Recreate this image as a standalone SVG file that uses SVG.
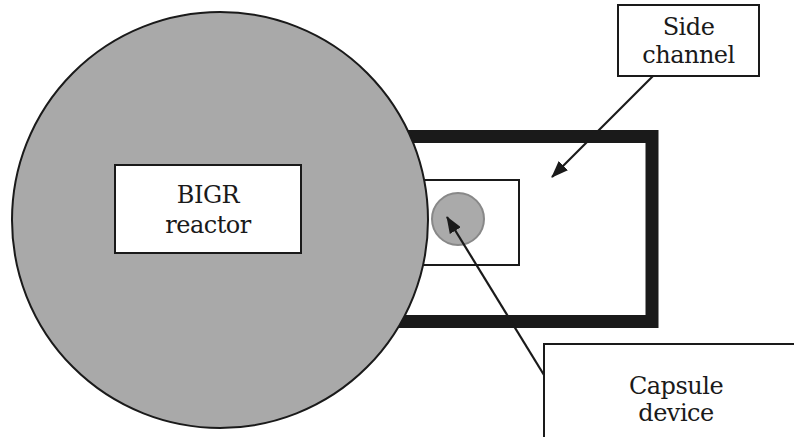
<svg xmlns="http://www.w3.org/2000/svg" width="794" height="437" viewBox="0 0 794 437">
  <style>
    text { font-family: 'DejaVu Serif', serif; font-size: 24px; letter-spacing: -0.5px; fill: #1a1a1a; text-anchor: middle; }
    .box { fill: #ffffff; stroke: #1a1a1a; stroke-width: 2; }
    .conn { stroke: #1a1a1a; stroke-width: 2.2; fill: none; marker-end: url(#head); }
  </style>
  <defs>
    <marker id="head" viewBox="0 0 17 13" refX="16" refY="6.5" markerWidth="17" markerHeight="13" markerUnits="userSpaceOnUse" orient="auto">
      <path d="M0,0 L17,6.5 L0,13 Z" fill="#1a1a1a"/>
    </marker>
  </defs>
  <rect width="794" height="437" fill="#ffffff"/>

  <!-- side channel frame (thick) and the irradiation cell inside it -->
  <g id="channel">
    <rect x="330" y="136.5" width="322" height="185" fill="none" stroke="#1a1a1a" stroke-width="13"/>
    <rect x="400" y="180" width="119" height="85" class="box"/>
  </g>

  <!-- reactor core -->
  <g id="reactor">
    <circle cx="220" cy="220" r="208" fill="#a9a9a9" stroke="#1a1a1a" stroke-width="2"/>
    <rect x="115" y="165" width="186" height="88" class="box"/>
    <text x="208" y="203">BIGR</text>
    <text x="208" y="233">reactor</text>
  </g>

  <!-- capsule -->
  <g id="capsule">
    <circle cx="458" cy="219" r="26" fill="#aaaaaa" stroke="#888888" stroke-width="2"/>
  </g>

  <g id="side-channel-label">
    <rect x="618" y="5" width="141" height="71" class="box"/>
    <text x="688.5" y="35">Side</text>
    <text x="688.5" y="63">channel</text>
  </g>

  <g id="capsule-label">
    <rect x="544" y="344" width="262" height="110" class="box"/>
    <text x="676" y="394">Capsule</text>
    <text x="676" y="421">device</text>
  </g>

  <g id="connectors">
    <line class="conn" x1="653" y1="76" x2="552" y2="177"/>
    <line class="conn" x1="544" y1="375" x2="447" y2="217"/>
  </g>
</svg>
